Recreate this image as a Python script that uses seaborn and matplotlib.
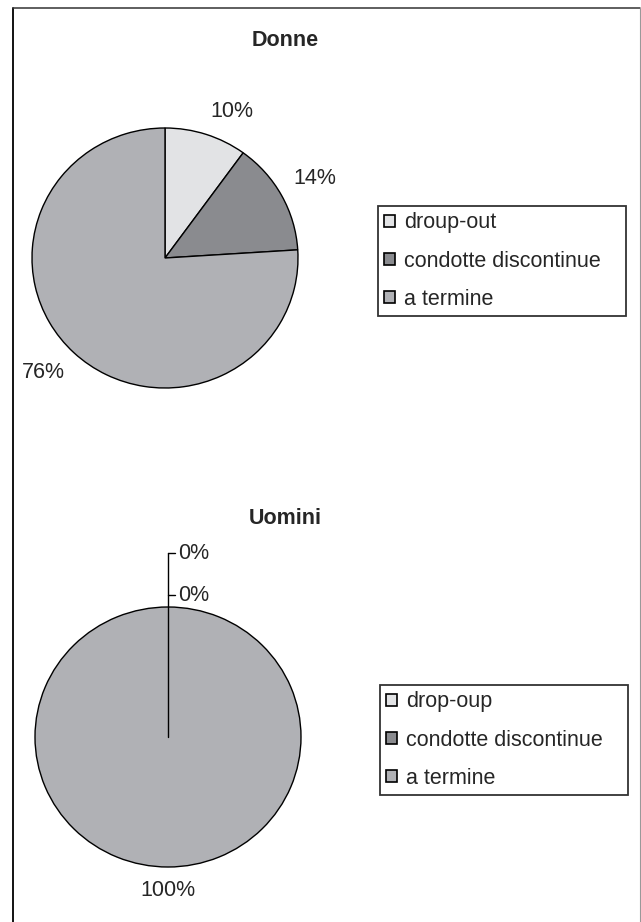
import matplotlib
matplotlib.use('Agg')
import matplotlib.pyplot as plt
from matplotlib.patches import Patch
from matplotlib.lines import Line2D
import numpy as np
import seaborn as sns

# Data
titles = ['Donne', 'Uomini']
categories_donne = ['droup-out', 'condotte discontinue', 'a termine']
values_donne = [10, 14, 76]
categories_uomini = ['drop-oup', 'condotte discontinue', 'a termine']
values_uomini = [0, 0, 100]
slice_colors = ['#e2e3e5', '#8a8b8f', '#b0b1b5']

sns.set_style('white')
plt.rcParams['font.family'] = ['Liberation Sans', 'DejaVu Sans']

W, H = 641, 922
fig = plt.figure(figsize=(W / 100, H / 100), dpi=100)


# Function to add an axes given a pixel centre and radii
def px_axes(cx, cy, rx, ry):
    return fig.add_axes([(cx - rx) / W, 1 - (cy + ry) / H, 2 * rx / W, 2 * ry / H])


# Function to draw one pie with its labels, title and legend
def draw_pie(cx, cy, values, labels, title, title_y, legend_px):
    ax = px_axes(cx, cy, 133, 130)
    wedges, _ = ax.pie(values, colors=slice_colors, startangle=90, counterclock=False,
                       radius=1, wedgeprops=dict(edgecolor='black', linewidth=1.0))
    ax.set_aspect('auto')
    ax.set_xlim(-1, 1)
    ax.set_ylim(-1, 1)
    ax.axis('off')

    total = sum(values)
    zero_count = 0
    n_zero = sum(1 for v in values if v == 0)
    for w, v in zip(wedges, values):
        pct = f'{round(100 * v / total)}%'
        t = np.deg2rad((w.theta1 + w.theta2) / 2)
        c, s = np.cos(t), np.sin(t)
        if v == 0:
            # empty slices: edge from the centre plus stacked labels with leader lines
            top = 1.09 + 0.325 * (n_zero - 1)
            y = top - 0.325 * zero_count
            if zero_count == 0:
                ax.plot([0, c * top], [0, top], color='black', lw=1.0, clip_on=False)
            ax.plot([0, 0.055], [y, y], color='black', lw=1.0, clip_on=False)
            ax.text(0.075, y, pct, ha='left', va='center', fontsize=15.5, clip_on=False)
            zero_count += 1
            continue
        r = 1.1
        ha = 'center' if abs(c) < 0.05 else ('left' if c > 0 else 'right')
        va = 'center' if abs(s) < 0.05 else ('bottom' if s > 0 else 'top')
        ax.text(r * c, r * s, pct, ha=ha, va=va, fontsize=15.5, clip_on=False)

    fig.text(285 / W, 1 - title_y / H, title, ha='center', va='center',
             fontsize=15.5, fontweight='bold')

    handles = [Patch(facecolor=col, edgecolor='black', linewidth=1.2) for col in slice_colors]
    x0, y0, x1, y1 = legend_px
    leg = ax.legend(handles, labels, loc='upper left', mode='expand',
                    bbox_to_anchor=(x0 / W, 1 - y1 / H, (x1 - x0) / W, (y1 - y0) / H),
                    bbox_transform=fig.transFigure, borderaxespad=0, fontsize=15.5,
                    frameon=True, fancybox=False, handlelength=0.5, handleheight=0.5,
                    handletextpad=0.4, labelspacing=0.8, borderpad=0.3)
    leg.get_frame().set_edgecolor('black')
    leg.get_frame().set_linewidth(1.3)
    return ax


draw_pie(165, 258, values_donne, categories_donne, titles[0], 41, (378, 206, 626, 314))
draw_pie(168, 737, values_uomini, categories_uomini, titles[1], 518, (380, 685, 628, 794))

# Outer frame of the scanned page
fig.add_artist(Line2D([13 / W, 13 / W], [0, 1 - 8 / H], color='black', lw=1.3))
fig.add_artist(Line2D([13 / W, 640 / W], [1 - 8 / H, 1 - 8 / H], color='#333333', lw=1.1))
fig.add_artist(Line2D([640 / W, 640 / W], [0, 1 - 8 / H], color='#999999', lw=0.8))

plt.savefig('out.png', dpi=100)
